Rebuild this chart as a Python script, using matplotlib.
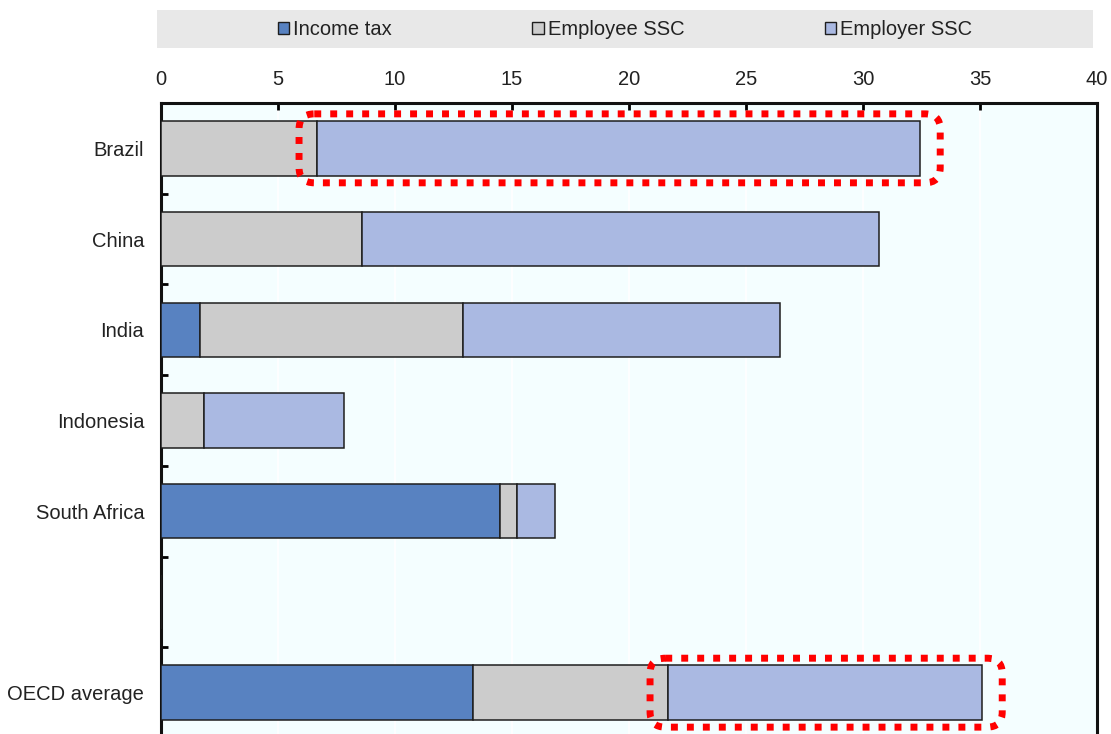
import numpy as np
import matplotlib.pyplot as plt
from matplotlib.patches import FancyBboxPatch, Patch
from matplotlib import font_manager

# data to plot (% of labour costs)
countries = ['Brazil', 'China', 'India', 'Indonesia', 'South Africa', '', 'OECD average']
income_tax = [0.0, 0.0, 1.65, 0.0, 14.5, 0.0, 13.35]
employee_ssc = [6.65, 8.6, 11.25, 1.85, 0.7, 0.0, 8.3]
employer_ssc = [25.8, 22.1, 13.55, 5.95, 1.65, 0.0, 13.45]
highlight = ['Brazil', 'OECD average']

names = {f.name for f in font_manager.fontManager.ttflist}
family = 'Liberation Sans Narrow' if 'Liberation Sans Narrow' in names else 'Liberation Sans'
plt.rcParams['font.family'] = [family, 'DejaVu Sans']

c_income = '#5882C1'
c_employee = '#CCCCCC'
c_employer = '#AAB9E2'
edge = '#1E1E1E'

fig = plt.figure(figsize=(11.11, 7.34), dpi=100)
ax = fig.add_axes([0.1449, -0.0055, 0.8425, 0.8652])
ax.set_facecolor('#F4FEFF')

index = np.arange(len(countries))
bar_height = 0.6
income = np.array(income_tax)
employee = np.array(employee_ssc)
employer = np.array(employer_ssc)

ax.barh(index, income, bar_height, color=c_income, edgecolor=edge, linewidth=1.1, zorder=3)
ax.barh(index, employee, bar_height, left=income, color=c_employee, edgecolor=edge,
        linewidth=1.1, zorder=3)
ax.barh(index, employer, bar_height, left=income + employee, color=c_employer,
        edgecolor=edge, linewidth=1.1, zorder=3)

ax.set_xlim(0, 40)
ax.set_ylim(6.5, -0.5)
ax.set_xticks(np.arange(0, 41, 5))
ax.xaxis.tick_top()
ax.tick_params(axis='x', direction='in', length=5, width=2, pad=10,
               labelsize=14.5, labelcolor='#222222')
ax.set_yticks(index)
ax.set_yticklabels(countries)
ax.set_yticks(np.arange(0.5, 6, 1), minor=True)
ax.tick_params(axis='y', which='major', length=0, pad=12, labelsize=14.5, labelcolor='#222222')
ax.tick_params(axis='y', which='minor', direction='in', length=5, width=2)
ax.grid(axis='x', color='white', linewidth=1.2, zorder=0)
for s in ax.spines.values():
    s.set_linewidth(2.2)
    s.set_color('#111111')

# dotted red boxes around the employer SSC segments
fig.canvas.draw()
p0 = ax.transData.transform((0, 0))
p1 = ax.transData.transform((1, 1))
aspect = abs(p1[0] - p0[0]) / abs(p1[1] - p0[1])
for name in highlight:
    i = countries.index(name)
    x0 = income[i] + employee[i] - 0.75
    x1 = income[i] + employee[i] + employer[i] + 0.85
    y0 = i - bar_height / 2 - 0.08
    box = FancyBboxPatch((x0, y0), x1 - x0, bar_height + 0.16,
                         boxstyle='round,pad=0,rounding_size=0.65',
                         mutation_aspect=aspect, fill=False, edgecolor='#FF0000',
                         linewidth=5, linestyle=(0, (1, 1.3)), zorder=5, clip_on=False)
    ax.add_patch(box)

# legend strip
lax = fig.add_axes([0.1413, 0.934, 0.8425, 0.052])
lax.set_facecolor('#E8E8E8')
lax.set_xticks([])
lax.set_yticks([])
for s in lax.spines.values():
    s.set_visible(False)
handles = [Patch(facecolor=c_income, edgecolor=edge, label='Income tax'),
           Patch(facecolor=c_employee, edgecolor=edge, label='Employee SSC'),
           Patch(facecolor=c_employer, edgecolor=edge, label='Employer SSC')]
lax.legend(handles=handles, loc='center', ncol=3, frameon=False, fontsize=14.5,
           handlelength=0.55, handleheight=0.55, handletextpad=0.2,
           columnspacing=7.0, labelcolor='#222222')

fig.savefig('out.png', dpi=100)
